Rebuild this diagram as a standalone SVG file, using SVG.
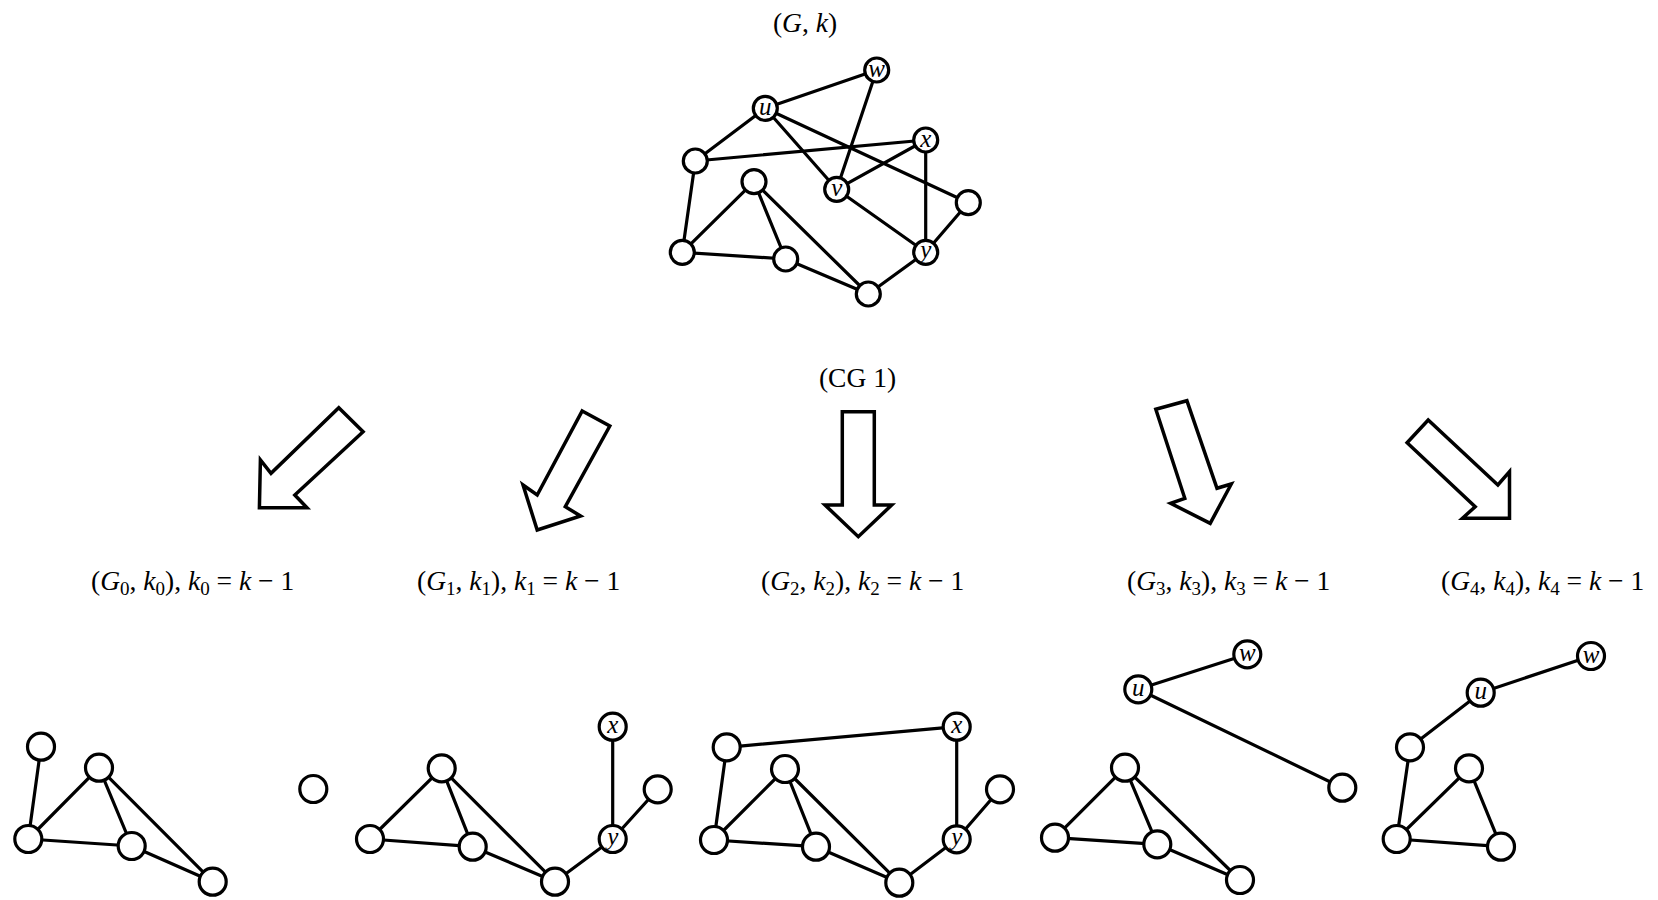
<svg xmlns="http://www.w3.org/2000/svg" width="1658" height="900" viewBox="0 0 1658 900">
<style>
.bg{fill:#ffffff}
.edge{stroke:#000;stroke-width:3.2;fill:none;stroke-linecap:round}
.nt{fill:#fff;stroke:#000;stroke-width:3.2}
.nb{fill:#fff;stroke:#000;stroke-width:3.2}
.arrow{fill:#fff;stroke:#000;stroke-width:3.5;stroke-linejoin:miter}
.lbl{font-family:"Liberation Serif","Times New Roman",serif;font-size:27.5px;fill:#000}
.it{font-style:italic}
.sub{font-size:19px}
.nl{font-family:"Liberation Serif","Times New Roman",serif;font-style:italic;font-size:25px;text-anchor:middle;fill:#000}
</style>
<rect class="bg" x="0" y="0" width="1658" height="900"/>

<!-- titles -->
<text class="lbl" x="805" y="32" text-anchor="middle">(<tspan class="it">G</tspan>, <tspan class="it">k</tspan>)</text>
<text class="lbl" x="857.5" y="387" text-anchor="middle">(CG 1)</text>

<!-- connectors -->
<g id="connectors">
  <!-- top graph -->
  <line class="edge" x1="765.3" y1="108.3" x2="876.7" y2="70"/>
  <line class="edge" x1="765.3" y1="108.3" x2="695.3" y2="161"/>
  <line class="edge" x1="765.3" y1="108.3" x2="836.7" y2="189.3"/>
  <line class="edge" x1="765.3" y1="108.3" x2="968.3" y2="202.7"/>
  <line class="edge" x1="876.7" y1="70" x2="836.7" y2="189.3"/>
  <line class="edge" x1="695.3" y1="161" x2="925.7" y2="140"/>
  <line class="edge" x1="925.7" y1="140" x2="836.7" y2="189.3"/>
  <line class="edge" x1="925.7" y1="140" x2="925.7" y2="252.3"/>
  <line class="edge" x1="695.3" y1="161" x2="682.3" y2="252.3"/>
  <line class="edge" x1="682.3" y1="252.3" x2="754" y2="181.7"/>
  <line class="edge" x1="682.3" y1="252.3" x2="785.7" y2="259"/>
  <line class="edge" x1="754" y1="181.7" x2="785.7" y2="259"/>
  <line class="edge" x1="754" y1="181.7" x2="868.3" y2="294"/>
  <line class="edge" x1="785.7" y1="259" x2="868.3" y2="294"/>
  <line class="edge" x1="836.7" y1="189.3" x2="925.7" y2="252.3"/>
  <line class="edge" x1="968.3" y1="202.7" x2="925.7" y2="252.3"/>
  <line class="edge" x1="925.7" y1="252.3" x2="868.3" y2="294"/>

  <!-- G0 -->
  <line class="edge" x1="41" y1="746.7" x2="28.3" y2="839"/>
  <line class="edge" x1="28.3" y1="839" x2="99" y2="767.7"/>
  <line class="edge" x1="28.3" y1="839" x2="131.7" y2="846"/>
  <line class="edge" x1="99" y1="767.7" x2="131.7" y2="846"/>
  <line class="edge" x1="99" y1="767.7" x2="212.7" y2="881.7"/>
  <line class="edge" x1="131.7" y1="846" x2="212.7" y2="881.7"/>

  <!-- G1 -->
  <line class="edge" x1="370" y1="839" x2="441.7" y2="768.3"/>
  <line class="edge" x1="370" y1="839" x2="472.7" y2="846.7"/>
  <line class="edge" x1="441.7" y1="768.3" x2="472.7" y2="846.7"/>
  <line class="edge" x1="441.7" y1="768.3" x2="555" y2="881.7"/>
  <line class="edge" x1="472.7" y1="846.7" x2="555" y2="881.7"/>
  <line class="edge" x1="555" y1="881.7" x2="612.7" y2="839"/>
  <line class="edge" x1="612.7" y1="726.7" x2="612.7" y2="839"/>
  <line class="edge" x1="657.7" y1="789.3" x2="612.7" y2="839"/>

  <!-- G2 -->
  <line class="edge" x1="726.7" y1="747.3" x2="956.7" y2="726.7"/>
  <line class="edge" x1="726.7" y1="747.3" x2="714" y2="840"/>
  <line class="edge" x1="714" y1="840" x2="785" y2="769"/>
  <line class="edge" x1="714" y1="840" x2="816" y2="846.7"/>
  <line class="edge" x1="785" y1="769" x2="816" y2="846.7"/>
  <line class="edge" x1="785" y1="769" x2="899.3" y2="882.7"/>
  <line class="edge" x1="816" y1="846.7" x2="899.3" y2="882.7"/>
  <line class="edge" x1="899.3" y1="882.7" x2="956.7" y2="839.3"/>
  <line class="edge" x1="956.7" y1="726.7" x2="956.7" y2="839.3"/>
  <line class="edge" x1="1000" y1="789.3" x2="956.7" y2="839.3"/>

  <!-- G3 -->
  <line class="edge" x1="1138.3" y1="689.3" x2="1247.3" y2="654.3"/>
  <line class="edge" x1="1138.3" y1="689.3" x2="1342.3" y2="787.7"/>
  <line class="edge" x1="1055" y1="837.7" x2="1125" y2="767.7"/>
  <line class="edge" x1="1055" y1="837.7" x2="1157.3" y2="844.3"/>
  <line class="edge" x1="1125" y1="767.7" x2="1157.3" y2="844.3"/>
  <line class="edge" x1="1125" y1="767.7" x2="1240" y2="880"/>
  <line class="edge" x1="1157.3" y1="844.3" x2="1240" y2="880"/>

  <!-- G4 -->
  <line class="edge" x1="1480.7" y1="692.7" x2="1591" y2="656"/>
  <line class="edge" x1="1480.7" y1="692.7" x2="1410" y2="747.3"/>
  <line class="edge" x1="1410" y1="747.3" x2="1396.7" y2="839"/>
  <line class="edge" x1="1396.7" y1="839" x2="1469" y2="768.3"/>
  <line class="edge" x1="1396.7" y1="839" x2="1501" y2="846.7"/>
  <line class="edge" x1="1469" y1="768.3" x2="1501" y2="846.7"/>

  <!-- block arrows -->
  <polygon class="arrow" points="338.8,407.7 363.1,431.7 294.8,495 307,507.7 259.4,507.7 260.4,460 271,473.3"/>
  <polygon class="arrow" points="582.2,411 609.8,426 565.3,506.7 580.6,516 537.2,530 523,485 537.2,495"/>
  <polygon class="arrow" points="842.3,411.7 874.3,411.7 874.3,505 891.7,505 858.3,536.7 825,505 842.3,505"/>
  <polygon class="arrow" points="1155.8,409.3 1186.9,400.7 1217,488.3 1231.3,484 1210.2,523.3 1170.6,503.3 1184.8,498.3"/>
  <polygon class="arrow" points="1407.1,442.7 1428.2,420 1497.9,485 1509.5,471.7 1509.5,518.3 1462.5,518.3 1475.2,506.7"/>
</g>

<!-- top graph nodes -->
<g id="top-graph">
  <g id="t-w"><circle class="nt" cx="876.7" cy="70" r="12"/><text class="nl" x="876.7" y="76.5">w</text></g>
  <g id="t-u"><circle class="nt" cx="765.3" cy="108.3" r="12"/><text class="nl" x="765.3" y="114.8">u</text></g>
  <g id="t-x"><circle class="nt" cx="925.7" cy="140" r="12"/><text class="nl" x="925.7" y="146.5">x</text></g>
  <g id="t-a"><circle class="nt" cx="695.3" cy="161" r="12"/></g>
  <g id="t-b"><circle class="nt" cx="754" cy="181.7" r="12"/></g>
  <g id="t-v"><circle class="nt" cx="836.7" cy="189.3" r="12"/><text class="nl" x="836.7" y="195.8">v</text></g>
  <g id="t-c"><circle class="nt" cx="968.3" cy="202.7" r="12"/></g>
  <g id="t-d"><circle class="nt" cx="682.3" cy="252.3" r="12"/></g>
  <g id="t-e"><circle class="nt" cx="785.7" cy="259" r="12"/></g>
  <g id="t-y"><circle class="nt" cx="925.7" cy="252.3" r="12"/><text class="nl" x="925.7" y="257.8">y</text></g>
  <g id="t-f"><circle class="nt" cx="868.3" cy="294" r="12"/></g>
</g>

<!-- labels -->
<g id="labels">
  <text class="lbl" x="91" y="590">(<tspan class="it">G</tspan><tspan class="sub" dy="5">0</tspan><tspan dy="-5">, </tspan><tspan class="it">k</tspan><tspan class="sub" dy="5">0</tspan><tspan dy="-5">), </tspan><tspan class="it">k</tspan><tspan class="sub" dy="5">0</tspan><tspan dy="-5"> = </tspan><tspan class="it">k</tspan> − 1</text>
  <text class="lbl" x="417" y="590">(<tspan class="it">G</tspan><tspan class="sub" dy="5">1</tspan><tspan dy="-5">, </tspan><tspan class="it">k</tspan><tspan class="sub" dy="5">1</tspan><tspan dy="-5">), </tspan><tspan class="it">k</tspan><tspan class="sub" dy="5">1</tspan><tspan dy="-5"> = </tspan><tspan class="it">k</tspan> − 1</text>
  <text class="lbl" x="761" y="590">(<tspan class="it">G</tspan><tspan class="sub" dy="5">2</tspan><tspan dy="-5">, </tspan><tspan class="it">k</tspan><tspan class="sub" dy="5">2</tspan><tspan dy="-5">), </tspan><tspan class="it">k</tspan><tspan class="sub" dy="5">2</tspan><tspan dy="-5"> = </tspan><tspan class="it">k</tspan> − 1</text>
  <text class="lbl" x="1127" y="590">(<tspan class="it">G</tspan><tspan class="sub" dy="5">3</tspan><tspan dy="-5">, </tspan><tspan class="it">k</tspan><tspan class="sub" dy="5">3</tspan><tspan dy="-5">), </tspan><tspan class="it">k</tspan><tspan class="sub" dy="5">3</tspan><tspan dy="-5"> = </tspan><tspan class="it">k</tspan> − 1</text>
  <text class="lbl" x="1441" y="590">(<tspan class="it">G</tspan><tspan class="sub" dy="5">4</tspan><tspan dy="-5">, </tspan><tspan class="it">k</tspan><tspan class="sub" dy="5">4</tspan><tspan dy="-5">), </tspan><tspan class="it">k</tspan><tspan class="sub" dy="5">4</tspan><tspan dy="-5"> = </tspan><tspan class="it">k</tspan> − 1</text>
</g>

<!-- G0 -->
<g id="g0">
  <g id="g0-a"><circle class="nb" cx="41" cy="746.7" r="13.5"/></g>
  <g id="g0-b"><circle class="nb" cx="99" cy="767.7" r="13.5"/></g>
  <g id="g0-d"><circle class="nb" cx="28.3" cy="839" r="13.5"/></g>
  <g id="g0-e"><circle class="nb" cx="131.7" cy="846" r="13.5"/></g>
  <g id="g0-f"><circle class="nb" cx="212.7" cy="881.7" r="13.5"/></g>
  <g id="g0-iso"><circle class="nb" cx="313.3" cy="789" r="13.5"/></g>
</g>

<!-- G1 -->
<g id="g1">
  <g id="g1-b"><circle class="nb" cx="441.7" cy="768.3" r="13.5"/></g>
  <g id="g1-d"><circle class="nb" cx="370" cy="839" r="13.5"/></g>
  <g id="g1-e"><circle class="nb" cx="472.7" cy="846.7" r="13.5"/></g>
  <g id="g1-f"><circle class="nb" cx="555" cy="881.7" r="13.5"/></g>
  <g id="g1-x"><circle class="nb" cx="612.7" cy="726.7" r="13.5"/><text class="nl" x="612.7" y="733.2">x</text></g>
  <g id="g1-c"><circle class="nb" cx="657.7" cy="789.3" r="13.5"/></g>
  <g id="g1-y"><circle class="nb" cx="612.7" cy="839" r="13.5"/><text class="nl" x="612.7" y="844.5">y</text></g>
</g>

<!-- G2 -->
<g id="g2">
  <g id="g2-a"><circle class="nb" cx="726.7" cy="747.3" r="13.5"/></g>
  <g id="g2-b"><circle class="nb" cx="785" cy="769" r="13.5"/></g>
  <g id="g2-d"><circle class="nb" cx="714" cy="840" r="13.5"/></g>
  <g id="g2-e"><circle class="nb" cx="816" cy="846.7" r="13.5"/></g>
  <g id="g2-f"><circle class="nb" cx="899.3" cy="882.7" r="13.5"/></g>
  <g id="g2-x"><circle class="nb" cx="956.7" cy="726.7" r="13.5"/><text class="nl" x="956.7" y="733.2">x</text></g>
  <g id="g2-c"><circle class="nb" cx="1000" cy="789.3" r="13.5"/></g>
  <g id="g2-y"><circle class="nb" cx="956.7" cy="839.3" r="13.5"/><text class="nl" x="956.7" y="844.8">y</text></g>
</g>

<!-- G3 -->
<g id="g3">
  <g id="g3-w"><circle class="nb" cx="1247.3" cy="654.3" r="13.5"/><text class="nl" x="1247.3" y="660.8">w</text></g>
  <g id="g3-u"><circle class="nb" cx="1138.3" cy="689.3" r="13.5"/><text class="nl" x="1138.3" y="695.8">u</text></g>
  <g id="g3-c"><circle class="nb" cx="1342.3" cy="787.7" r="13.5"/></g>
  <g id="g3-b"><circle class="nb" cx="1125" cy="767.7" r="13.5"/></g>
  <g id="g3-d"><circle class="nb" cx="1055" cy="837.7" r="13.5"/></g>
  <g id="g3-e"><circle class="nb" cx="1157.3" cy="844.3" r="13.5"/></g>
  <g id="g3-f"><circle class="nb" cx="1240" cy="880" r="13.5"/></g>
</g>

<!-- G4 -->
<g id="g4">
  <g id="g4-w"><circle class="nb" cx="1591" cy="656" r="13.5"/><text class="nl" x="1591" y="662.5">w</text></g>
  <g id="g4-u"><circle class="nb" cx="1480.7" cy="692.7" r="13.5"/><text class="nl" x="1480.7" y="699.2">u</text></g>
  <g id="g4-a"><circle class="nb" cx="1410" cy="747.3" r="13.5"/></g>
  <g id="g4-b"><circle class="nb" cx="1469" cy="768.3" r="13.5"/></g>
  <g id="g4-d"><circle class="nb" cx="1396.7" cy="839" r="13.5"/></g>
  <g id="g4-e"><circle class="nb" cx="1501" cy="846.7" r="13.5"/></g>
</g>
</svg>
